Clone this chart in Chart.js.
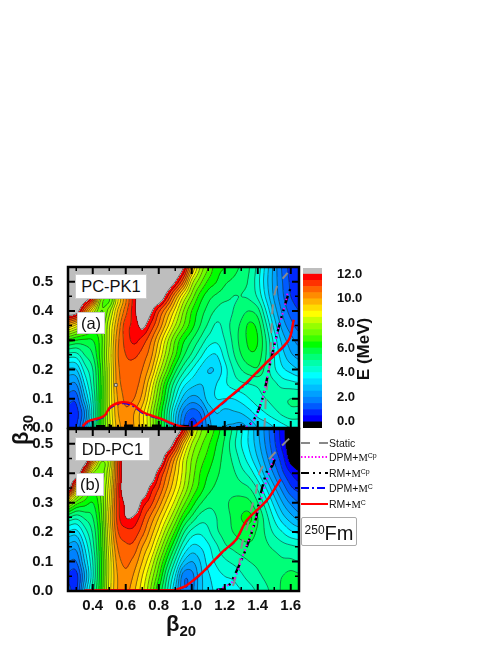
<!DOCTYPE html>
<html>
<head>
<meta charset="utf-8">
<script src="https://cdn.jsdelivr.net/npm/chart.js@4"></script>
<style>
    html, body { margin: 0; padding: 0; background: #fff; }
    body { position: relative; width: 498px; height: 645px; overflow: hidden; font-family: "Liberation Sans", Arial, sans-serif; }
    canvas { position: absolute; }
    .tag { position: absolute; background: #fff; border: 1px solid #ccc; box-sizing: border-box; text-align: center; color: #111; font-size: 16.5px; }
    .axis { position: absolute; font-weight: bold; color: #111; white-space: nowrap; }
    .axis sub { font-size: 15px; vertical-align: -5px; line-height: 0; }
    .leg { position: absolute; left: 329px; font-size: 10.5px; color: #111; white-space: nowrap; line-height: 12px; }
    .leg i { font-family: "Liberation Serif", serif; font-style: normal; }
    .leg sup { font-size: 7px; vertical-align: 3px; line-height: 0; }
    svg { position: absolute; left: 301px; width: 27px; height: 6px; }
</style>
</head>
<body>
<canvas id="panelA"></canvas>
<canvas id="panelB"></canvas>
<canvas id="barra"></canvas>

<div class="tag" style="left:75px;top:274px;width:72px;height:25px;line-height:23px">PC-PK1</div>
<div class="tag" style="left:77px;top:312px;width:28px;height:22px;line-height:20px">(a)</div>
<div class="tag" style="left:75px;top:437px;width:75px;height:24px;line-height:22px">DD-PC1</div>
<div class="tag" style="left:76px;top:473px;width:28px;height:23px;line-height:21px">(b)</div>

<div class="axis" style="left:166px;top:611px;font-size:22px">β<sub>20</sub></div>
<div class="axis" style="left:-14px;top:417px;font-size:22px;width:70px;text-align:center;transform:rotate(-90deg)">β<sub>30</sub></div>
<div class="axis" style="left:327px;top:339px;font-size:17px;width:74px;text-align:center;transform:rotate(-90deg)">E (MeV)</div>

<svg style="top:440px"><line x1="0" y1="3" x2="27" y2="3" stroke="#888" stroke-width="2" stroke-dasharray="9 9"/></svg>
<svg style="top:454px"><line x1="0" y1="3" x2="27" y2="3" stroke="#f0f" stroke-width="2" stroke-dasharray="1.5 2"/></svg>
<svg style="top:470px"><line x1="0" y1="3" x2="27" y2="3" stroke="#000" stroke-width="2.2" stroke-dasharray="8 4 2 4 2 4"/></svg>
<svg style="top:485px"><line x1="0" y1="3" x2="27" y2="3" stroke="#00f" stroke-width="2" stroke-dasharray="8 3 2 3"/></svg>
<svg style="top:501px"><line x1="0" y1="3" x2="27" y2="3" stroke="#f00" stroke-width="2"/></svg>
<div class="leg" style="top:437px">Static</div>
<div class="leg" style="top:451px">DPM+<i>M</i><sup>Cp</sup></div>
<div class="leg" style="top:467px">RM+<i>M</i><sup>Cp</sup></div>
<div class="leg" style="top:482px">DPM+<i>M</i><sup>C</sup></div>
<div class="leg" style="top:498px">RM+<i>M</i><sup>C</sup></div>
<div class="tag" style="left:301px;top:517px;width:56px;height:29px;line-height:30px;font-size:20px;border:1px solid #aaa;border-radius:2px"><span style="font-size:12px;vertical-align:6px;line-height:0">250</span>Fm</div>

<script>
const beta20 = [0.25, 0.30, 0.35, 0.40, 0.45, 0.50, 0.55, 0.60, 0.65, 0.70, 0.75, 0.80, 0.85, 0.90, 0.95, 1.00, 1.05, 1.10, 1.15, 1.20, 1.25, 1.30, 1.35, 1.40, 1.45, 1.50, 1.55, 1.60, 1.65];
const beta30 = [0, 0.05, 0.10, 0.15, 0.20, 0.25, 0.30, 0.35, 0.40, 0.45, 0.50, 0.55];

// energia por fila (beta30) y columna (beta20), leida a ojo del color
const energiaA = [
    [1.0, 1.0, 2.5, 4.5, 6.5, 8.3, 9.7, 10.2, 10, 9.2, 8, 6.5, 5, 3, 1.5, 0.8, 1.2, 2.2, 2.8, 2.5, 2.4, 2.3, 2.6, 3, 3.2, 3.5, 3.8, 4, 4],
    [0.8, 0.8, 2, 4.3, 6.5, 8.4, 9.9, 10.4, 10, 9.2, 8, 6.5, 5, 3.2, 1.8, 1.2, 1.5, 2.5, 3, 2.8, 2.9, 3, 3.3, 3.7, 4, 4.3, 4.6, 4.8, 4.8],
    [1.2, 1.2, 2.8, 4.5, 6.5, 8.5, 10, 10.6, 10.5, 9.8, 8.5, 7, 5.5, 4, 2.8, 2.3, 2.5, 3.2, 3.5, 3.5, 3.5, 3.7, 4, 4.3, 4.5, 4.7, 4.9, 5, 5],
    [2, 2, 3.5, 4.8, 6.5, 8.5, 10.2, 10.7, 10.7, 10.2, 9, 7.5, 6, 4.7, 3.7, 3.2, 3, 3.2, 3.5, 3.9, 4.2, 4.4, 4.5, 4.6, 4.7, 4.6, 4.3, 4.2, 4.1],
    [2.9, 3, 4.2, 5, 6.6, 8.5, 10.3, 10.8, 10.8, 10.5, 9.7, 8.3, 7, 5.7, 4.7, 4, 3.4, 3, 3.1, 3.8, 4.5, 5, 5.3, 5.4, 4.8, 4.1, 3.6, 3.3, 3],
    [4.3, 4.3, 5, 5.5, 6.8, 8.6, 10.4, 11, 11.1, 10.8, 10.2, 9, 7.7, 6.6, 5.6, 4.9, 4.2, 3.6, 3.5, 4.2, 4.9, 5.5, 5.9, 5.8, 5, 4, 3.2, 2.6, 2.3],
    [6.3, 6, 5.9, 6, 6.8, 8.5, 10.3, 11.2, 11.6, 11.3, 10.6, 9.5, 8.2, 7, 6.1, 5.5, 4.9, 4.3, 4.1, 4.5, 5.1, 5.7, 6.1, 6, 5, 3.8, 2.8, 2.2, 1.8],
    [9.5, 8.8, 8, 7, 7, 8.4, 10, 11.3, 11.6, 12.2, 11.4, 10.4, 9.2, 8, 7, 6.2, 5.5, 4.9, 4.4, 4.7, 5.2, 5.6, 6.1, 5.8, 4.6, 3.3, 2.3, 1.7, 1.3],
    [14, 12.5, 10.5, 8.5, 7, 7.8, 9.5, 10.8, 11.8, 14, 12.2, 11.1, 10, 8.8, 7.5, 6.5, 5.8, 5.3, 4.9, 4.7, 5, 5.3, 5.5, 5.2, 4, 2.8, 1.9, 1.3, 1],
    [15, 15, 13.5, 11.5, 8, 7.2, 9, 10.5, 11.8, 15, 15, 14, 11.6, 10, 8.5, 7.3, 6.3, 5.7, 5.4, 5.2, 5, 5, 4.9, 4.4, 3.4, 2.4, 1.6, 1, 0.8],
    [15, 15, 15, 15, 13, 12.2, 12.2, 12.4, 12.5, 15, 15, 15, 14, 12, 10.5, 8.3, 7.2, 6.4, 6, 5.6, 5.4, 5.2, 4.9, 4.2, 3.2, 2.3, 1.5, 0.9, 0.6],
    [15, 15, 15, 15, 15, 15, 15, 15, 15, 15, 15, 15, 15, 14, 12, 9.7, 8, 7, 6.2, 6, 5.7, 5.4, 5, 4.3, 3.3, 2.3, 1.4, 0.8, 0.5]
];

const energiaB = [
    [1.2, 0.9, 3, 4.8, 6.5, 8.7, 10, 10.2, 9.6, 8.7, 7.5, 6, 4.6, 3, 1.6, 1.8, 2.8, 3.3, 3.6, 3.7, 3.8, 4, 4.3, 4.6, 4.9, 5.2, 5.6, 5.8, 5.8],
    [0.9, 0.8, 2.5, 4.4, 6.4, 8.6, 10, 10.4, 9.9, 9, 7.9, 6.6, 5, 3.5, 1.7, 1.8, 2.8, 3.4, 3.8, 4, 4.1, 4.4, 4.7, 4.9, 5.1, 5.3, 5.5, 5.7, 5.6],
    [1.5, 1.5, 3, 4.5, 6.4, 8.6, 10.2, 10.6, 10.3, 9.5, 8.5, 7.2, 5.8, 4.4, 3, 2.5, 3, 3.7, 4.1, 4.4, 4.6, 4.8, 5, 5.1, 5.2, 5.2, 5.1, 5.1, 5],
    [2.3, 2.2, 3.5, 4.8, 6.5, 8.8, 10.5, 10.9, 10.8, 10, 9.2, 8, 6.7, 5.4, 4.1, 3.4, 3.5, 3.9, 4.4, 4.9, 5.1, 5.3, 5.4, 5.3, 5.1, 4.9, 4.7, 4.6, 4.5],
    [3.4, 3.3, 4.2, 5.1, 6.6, 9, 10.9, 11.3, 11.3, 10.7, 9.8, 8.8, 7.6, 6.4, 5.1, 4.3, 4.1, 4.4, 4.9, 5.2, 5.5, 5.7, 5.7, 5.4, 4.9, 4.4, 4, 3.6, 3.4],
    [5, 4.7, 5.1, 5.5, 6.8, 9.2, 11.2, 12, 11.9, 11.2, 10.4, 9.5, 8.5, 7.4, 6.2, 5.4, 4.8, 4.7, 5, 5.3, 5.6, 6, 6.1, 5.5, 4.7, 3.9, 3.2, 2.7, 2.3],
    [8, 6.8, 6.3, 6, 7, 9, 11.2, 12.2, 13, 11.8, 11.2, 10.3, 9.3, 8.3, 7.2, 6.3, 5.6, 5.2, 5.2, 5.4, 5.6, 5.7, 5.6, 5, 4.2, 3.3, 2.5, 1.9, 1.5],
    [12.5, 9.5, 7.8, 6.6, 7.2, 8.8, 11.2, 13.5, 14, 13, 11.8, 11, 10, 9, 8, 7, 6.3, 5.7, 5.4, 5.3, 5.3, 5.2, 5, 4.4, 3.5, 2.6, 1.8, 1.1, 0.8],
    [15, 13, 10.5, 7.6, 7.2, 8.5, 11, 15, 15, 15, 13, 11.6, 10.5, 9.4, 8.3, 7.3, 6.5, 6, 5.6, 5.3, 5.1, 4.7, 4.3, 3.6, 2.7, 1.9, 1.1, 0.5, 0.1],
    [15, 15, 13, 10.5, 8, 8.5, 11.2, 15, 15, 15, 15, 13.5, 11.3, 9.9, 8.5, 7.5, 6.8, 6.3, 5.8, 5.3, 4.9, 4.3, 3.7, 3, 2.2, 1.4, 0.7, -0.3, -0.5],
    [15, 15, 15, 15, 13, 12.2, 13, 15, 15, 15, 15, 15, 14, 11.5, 9.5, 8, 7.2, 6.6, 6, 5.4, 4.7, 4, 3.4, 2.7, 1.9, 1.1, 0.3, -0.5, -0.6],
    [15, 15, 15, 15, 15, 15, 15, 15, 15, 15, 15, 15, 15, 14, 11.5, 9, 7.7, 7, 6.3, 5.6, 4.9, 4.1, 3.4, 2.6, 1.8, 1, 0.2, -0.6, -0.7]
];

// escala de color: de 0 a 12 MeV cada 0.5
const niveles = [0, 0.5, 1, 1.5, 2, 2.5, 3, 3.5, 4, 4.5, 5, 5.5, 6, 6.5, 7, 7.5, 8, 8.5, 9, 9.5, 10, 10.5, 11, 11.5, 12];
const coloresBanda = ['#0000ff', '#0028ff', '#005aff', '#0082ff', '#00a0ff', '#00beff', '#00dcff', '#00ffff', '#00ffd2', '#00ffaa', '#00ff78', '#00ff46', '#00ff00', '#3cff00', '#6eff00', '#96ff00', '#c8ff00', '#ffff00', '#ffdc00', '#ffb400', '#ff8c00', '#ff6400', '#ff3200', '#ff0000'];
const colorBajo = '#000000';
const colorAlto = '#bebebe';

const ticksX = [0.4, 0.6, 0.8, 1.0, 1.2, 1.4, 1.6];
const menoresX = [0.3, 0.5, 0.7, 0.9, 1.1, 1.3, 1.5];
const ticksY = [0, 0.1, 0.2, 0.3, 0.4, 0.5];
const menoresY = [0.05, 0.15, 0.25, 0.35, 0.45, 0.55];
const ticksBarra = [0, 2, 4, 6, 8, 10, 12];

// caminos de fision, panel (a)
const aRmCx = [0.338, 0.368, 0.468, 0.508, 0.578, 0.638, 0.708, 0.808, 0.908, 0.998, 1.088, 1.208, 1.328, 1.448, 1.588, 1.618];
const aRmCy = [0.005, 0.022, 0.041, 0.073, 0.088, 0.082, 0.053, 0.033, 0.010, 0.001, 0.039, 0.096, 0.153, 0.221, 0.301, 0.370];
const aDpmCy = [0.002, 0.019, 0.038, 0.069, 0.084, 0.077, 0.049, 0.030, 0.008, 0.001, 0.037, 0.094, 0.150, 0.219, 0.299, 0.368];
const aRmCpx = [0.42, 0.70, 1.05, 1.30, 1.366, 1.426, 1.48, 1.53, 1.576, 1.60];
const aRmCpy = [0.006, 0.008, 0.006, 0.004, 0.02, 0.096, 0.233, 0.35, 0.44, 0.48];
const aDpmCpx = [1.33, 1.37, 1.426, 1.48, 1.525, 1.57, 1.58];
const aDpmCpy = [0.004, 0.02, 0.096, 0.233, 0.34, 0.43, 0.46];
const aStaticx = [1.44, 1.444, 1.45, 1.474, 1.48, 1.492, 1.516, 1.58];
const aStaticy = [0, 0.037, 0.106, 0.233, 0.295, 0.42, 0.483, 0.53];

// caminos de fision, panel (b)
const bRmCx = [0.35, 0.60, 0.90, 0.908, 0.968, 1.068, 1.188, 1.268, 1.328, 1.388, 1.458, 1.538];
const bRmCy = [0.002, 0.003, 0.003, 0.005, 0.019, 0.065, 0.134, 0.174, 0.236, 0.271, 0.31, 0.379];
const bDpmCy = [0.001, 0.002, 0.002, 0.004, 0.017, 0.063, 0.132, 0.172, 0.234, 0.269, 0.308, 0.377];
const bRmCpx = [1.15, 1.21, 1.258, 1.33, 1.39, 1.408, 1.456, 1.488, 1.51];
const bRmCpy = [0.004, 0.01, 0.052, 0.145, 0.248, 0.305, 0.407, 0.425, 0.46];
const bDpmCpx = [1.16, 1.25, 1.306, 1.37, 1.408, 1.44, 1.5];
const bDpmCpy = [0.003, 0.034, 0.114, 0.215, 0.286, 0.35, 0.46];
const bStaticx = [1.25, 1.285, 1.306, 1.336, 1.36, 1.39, 1.414, 1.48, 1.558, 1.63];
const bStaticy = [0.017, 0.086, 0.162, 0.217, 0.276, 0.338, 0.407, 0.455, 0.5, 0.538];

const huecoX = [0.54];
const huecoY = [0.147];

function puntos(xs, ys) {
    return xs.map((x, i) => ({ x: x, y: ys[i] }));
}

function catmull(p0, p1, p2, p3, t) {
    return 0.5 * (2 * p1 + (p2 - p0) * t + (2 * p0 - 5 * p1 + 4 * p2 - p3) * t * t + (3 * p1 - p0 - 3 * p2 + p3) * t * t * t);
}

function valorEn(grid, bx, by) {
    const dx = 0.05;
    const fx = Math.max(0, Math.min(beta20.length - 1.001, (bx - beta20[0]) / dx));
    const fy = Math.max(0, Math.min(beta30.length - 1.001, by / dx));
    const ix = Math.floor(fx), iy = Math.floor(fy);
    const col = [];
    for (let j = -1; j <= 2; j++) {
        const row = grid[Math.max(0, Math.min(grid.length - 1, iy + j))];
        const v = [-1, 0, 1, 2].map(k => Math.min(12.8, row[Math.max(0, Math.min(row.length - 1, ix + k))]));
        col.push(catmull(v[0], v[1], v[2], v[3], fx - ix));
    }
    return catmull(col[0], col[1], col[2], col[3], fy - iy);
}

function colorDe(e) {
    if (e < 0) return colorBajo;
    if (e >= 12) return colorAlto;
    return coloresBanda[Math.floor(e / 0.5)];
}

function rgbDe(hex) {
    return [parseInt(hex.slice(1, 3), 16), parseInt(hex.slice(3, 5), 16), parseInt(hex.slice(5, 7), 16)];
}

// dibuja bandas y contornos usando las escalas del grafico
function pluginContorno(grid) {
    return {
        id: 'contorno',
        beforeDatasetsDraw(chart) {
            const { ctx, chartArea, scales } = chart;
            const l = Math.round(chartArea.left), t = Math.round(chartArea.top);
            const w = Math.round(chartArea.right) - l, h = Math.round(chartArea.bottom) - t;
            const campo = new Float32Array((w + 1) * (h + 1));
            for (let j = 0; j <= h; j++) {
                const by = scales.y.getValueForPixel(t + j);
                for (let i = 0; i <= w; i++) {
                    campo[j * (w + 1) + i] = valorEn(grid, scales.x.getValueForPixel(l + i), by);
                }
            }
            const off = document.createElement('canvas');
            off.width = w; off.height = h;
            const octx = off.getContext('2d');
            const img = octx.createImageData(w, h);
            for (let j = 0; j < h; j++) {
                for (let i = 0; i < w; i++) {
                    const c = rgbDe(colorDe(campo[j * (w + 1) + i]));
                    const p = (j * w + i) * 4;
                    img.data[p] = c[0]; img.data[p + 1] = c[1]; img.data[p + 2] = c[2]; img.data[p + 3] = 255;
                }
            }
            octx.putImageData(img, 0, 0);
            ctx.save();
            ctx.drawImage(off, l, t);
            ctx.beginPath();
            niveles.forEach(nivel => {
                for (let j = 0; j < h; j++) {
                    for (let i = 0; i < w; i++) {
                        const a = campo[j * (w + 1) + i], b = campo[j * (w + 1) + i + 1];
                        const c = campo[(j + 1) * (w + 1) + i + 1], d = campo[(j + 1) * (w + 1) + i];
                        const cruces = [];
                        if ((a < nivel) !== (b < nivel)) cruces.push([i + (nivel - a) / (b - a), j]);
                        if ((b < nivel) !== (c < nivel)) cruces.push([i + 1, j + (nivel - b) / (c - b)]);
                        if ((d < nivel) !== (c < nivel)) cruces.push([i + (nivel - d) / (c - d), j + 1]);
                        if ((a < nivel) !== (d < nivel)) cruces.push([i, j + (nivel - a) / (d - a)]);
                        if (cruces.length >= 2) {
                            ctx.moveTo(l + cruces[0][0], t + cruces[0][1]);
                            ctx.lineTo(l + cruces[1][0], t + cruces[1][1]);
                        }
                    }
                }
            });
            ctx.strokeStyle = 'rgba(25,25,25,0.75)';
            ctx.lineWidth = 0.7;
            ctx.stroke();
            ctx.restore();
        }
    };
}

// marco negro y marcas hacia adentro en los cuatro lados
const pluginMarco = {
    id: 'marco',
    afterDraw(chart) {
        const { ctx, chartArea: a, scales } = chart;
        ctx.save();
        ctx.strokeStyle = '#000';
        const marca = (px, py, dx, dy, largo) => {
            ctx.moveTo(px, py);
            ctx.lineTo(px + dx * largo, py + dy * largo);
        };
        const grupo = (valsX, valsY, largo, ancho) => {
            ctx.beginPath();
            ctx.lineWidth = ancho;
            valsX.forEach(v => {
                const px = scales.x.getPixelForValue(v);
                marca(px, a.bottom, 0, -1, largo);
                marca(px, a.top, 0, 1, largo);
            });
            valsY.forEach(v => {
                const py = scales.y.getPixelForValue(v);
                marca(a.left, py, 1, 0, largo);
                marca(a.right, py, -1, 0, largo);
            });
            ctx.stroke();
        };
        grupo(ticksX, ticksY, 7, 2);
        grupo(menoresX, menoresY, 4, 1.5);
        ctx.lineWidth = 2.5;
        ctx.strokeRect(a.left, a.top, a.right - a.left, a.bottom - a.top);
        ctx.restore();
    }
};

function linea(xs, ys, color, ancho, dash, orden) {
    return {
        data: puntos(xs, ys),
        showLine: true,
        borderColor: color,
        borderWidth: ancho,
        borderDash: dash,
        pointRadius: 0,
        tension: 0.3,
        order: orden
    };
}

function crearPanel(id, grid, top, height, pad, conLabelsX, series) {
    const cv = document.getElementById(id);
    cv.style.left = '0px';
    cv.style.top = top + 'px';
    cv.style.width = '310px';
    cv.style.height = height + 'px';
    cv.width = 310;
    cv.height = height;
    return new Chart(cv.getContext('2d'), {
        type: 'scatter',
        data: { datasets: series },
        options: {
            responsive: false,
            animation: false,
            layout: { padding: pad },
            plugins: { legend: { display: false }, tooltip: { enabled: false } },
            scales: {
                x: {
                    type: 'linear',
                    min: 0.25,
                    max: 1.65,
                    grid: { display: false },
                    border: { display: false },
                    afterBuildTicks: s => { s.ticks = ticksX.map(v => ({ value: v })); },
                    afterFit: s => {
                        s.height = conLabelsX ? 54 : 0;
                        s.paddingLeft = 0;
                        s.paddingRight = 0;
                    },
                    ticks: {
                        display: conLabelsX,
                        padding: -2,
                        autoSkip: false,
                        maxRotation: 0,
                        color: '#111',
                        font: { family: 'Liberation Sans', size: 15, weight: 'bold' },
                        callback: v => v.toFixed(1)
                    }
                },
                y: {
                    type: 'linear',
                    min: 0,
                    max: 0.55,
                    grid: { display: false },
                    border: { display: false },
                    afterBuildTicks: s => { s.ticks = ticksY.map(v => ({ value: v })); },
                    afterFit: s => {
                        s.width = 68;
                        s.paddingTop = 0;
                        s.paddingBottom = 0;
                    },
                    ticks: {
                        padding: 7,
                        autoSkip: false,
                        color: '#111',
                        font: { family: 'Liberation Sans', size: 15, weight: 'bold' },
                        callback: v => v.toFixed(1)
                    }
                }
            }
        },
        plugins: [pluginContorno(grid), pluginMarco]
    });
}

function seriesPanel(s) {
    return [
        linea(s.rmcx, s.rmcy, '#ff0000', 2.4, [], 0),
        linea(s.rmcx, s.dpmcy, '#0000ff', 1.8, [8, 3, 2, 3], 1),
        linea(s.dcpx, s.dcpy, '#ff00ff', 2, [1.5, 3.5], 2),
        linea(s.rcpx, s.rcpy, '#000000', 2.4, [9, 5, 2, 5, 2, 5], 3),
        linea(s.stx, s.sty, '#8c8c8c', 2, [10, 9], 4)
    ];
}

const seriesA = seriesPanel({ rmcx: aRmCx, rmcy: aRmCy, dpmcy: aDpmCy, dcpx: aDpmCpx, dcpy: aDpmCpy, rcpx: aRmCpx, rcpy: aRmCpy, stx: aStaticx, sty: aStaticy });
seriesA.push({ data: puntos(huecoX, huecoY), pointStyle: 'rect', pointRadius: 2, backgroundColor: '#d0d0d0', borderColor: '#333', borderWidth: 0.7, order: 5 });
const seriesB = seriesPanel({ rmcx: bRmCx, rmcy: bRmCy, dpmcy: bDpmCy, dcpx: bDpmCpx, dcpy: bDpmCpy, rcpx: bRmCpx, rcpy: bRmCpy, stx: bStaticx, sty: bStaticy });

crearPanel('panelA', energiaA, 255, 180, { top: 12, bottom: 7, left: 0, right: 11 }, false, seriesA);
crearPanel('panelB', energiaB, 420, 225, { top: 9, bottom: 0, left: 0, right: 11 }, true, seriesB);

// barra de color como barras flotantes
const etiquetaBarra = ['E'];
const bordesBarra = [-0.5].concat(niveles, [12.5]);
const coloresBarra = [colorBajo].concat(coloresBanda, [colorAlto]);
const cvBarra = document.getElementById('barra');
cvBarra.style.left = '295px';
cvBarra.style.top = '255px';
cvBarra.style.width = '100px';
cvBarra.style.height = '190px';
cvBarra.width = 100;
cvBarra.height = 190;
new Chart(cvBarra.getContext('2d'), {
    type: 'bar',
    data: {
        labels: etiquetaBarra,
        datasets: coloresBarra.map((c, i) => ({
            data: [[bordesBarra[i], bordesBarra[i + 1]]],
            backgroundColor: c,
            barPercentage: 1,
            categoryPercentage: 1,
            grouped: false
        }))
    },
    options: {
        responsive: false,
        animation: false,
        layout: { padding: { top: 13, bottom: 17, left: 8, right: 0 } },
        plugins: { legend: { display: false }, tooltip: { enabled: false } },
        scales: {
            x: { display: false },
            y: {
                position: 'right',
                min: -0.5,
                max: 12.5,
                grid: { display: false },
                border: { display: false },
                afterBuildTicks: s => { s.ticks = ticksBarra.map(v => ({ value: v })); },
                afterFit: s => {
                    s.width = 73;
                    s.paddingTop = 0;
                    s.paddingBottom = 0;
                },
                ticks: {
                    padding: 7,
                    color: '#111',
                    font: { family: 'Liberation Sans', size: 13, weight: 'bold' },
                    callback: v => v.toFixed(1)
                }
            }
        }
    }
});
</script>
</body>
</html>
